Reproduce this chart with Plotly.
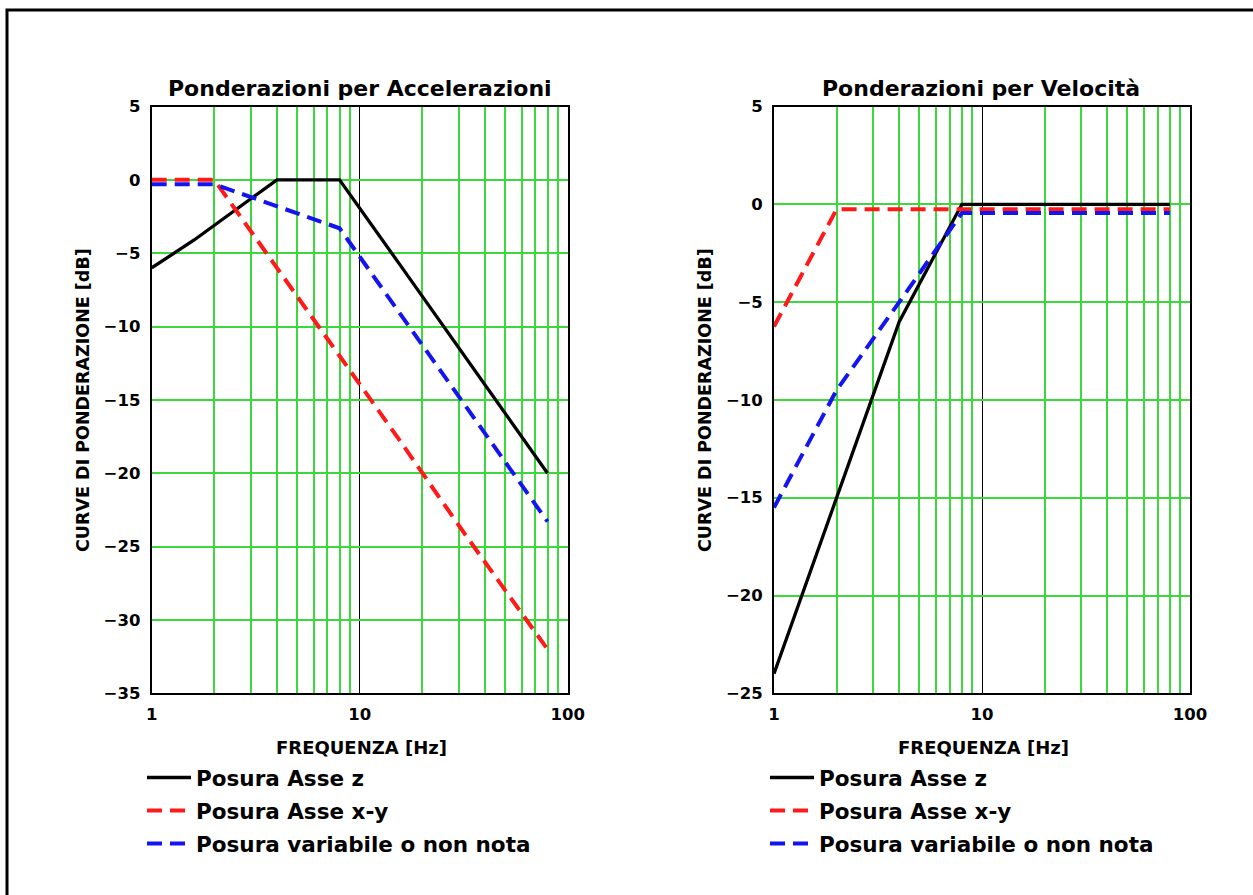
import plotly.graph_objects as go

# ---------------- data ----------------
series_names = ["Posura Asse z", "Posura Asse x-y", "Posura variabile o non nota"]

# Ponderazioni per Accelerazioni
freq_acc_z = [1, 1.6, 4, 8, 16, 80]
acc_z = [-6.0, -4.1, 0.0, 0.0, -6.0, -20.0]

freq_acc_xy = [1, 2, 4, 8, 16, 31.5, 63, 80]
acc_xy = [0.0, 0.0, -6.0, -12.0, -18.0, -24.0, -30.0, -32.0]

freq_acc_var = [1, 2, 8, 80]
acc_var = [-0.3, -0.3, -3.3, -23.3]

# Ponderazioni per Velocità
freq_vel_z = [1, 2, 4, 8, 80]
vel_z = [-24.0, -15.0, -6.0, 0.0, 0.0]

freq_vel_xy = [1, 1.6, 2, 80]
vel_xy = [-6.25, -2.2, -0.25, -0.25]

freq_vel_var = [1, 2, 4, 8, 80]
vel_var = [-15.5, -9.5, -5.0, -0.45, -0.45]

titles = ["Ponderazioni per Accelerazioni", "Ponderazioni per Velocità"]
x_title = "FREQUENZA [Hz]"
y_title = "CURVE DI PONDERAZIONE [dB]"

# ---------------- styling ----------------
W, H = 1253, 895
FONT = "DejaVu Sans"
GREEN = "#3cd83c"
colors = ["#000000", "#ff1a1a", "#1414f0"]
dashes = ["solid", "15px,8px", "15px,8px"]
widths = [3.3, 4, 4]

fig = go.Figure()

acc_sets = [(freq_acc_z, acc_z), (freq_acc_xy, acc_xy), (freq_acc_var, acc_var)]
vel_sets = [(freq_vel_z, vel_z), (freq_vel_xy, vel_xy), (freq_vel_var, vel_var)]

for i, (fx, fy) in enumerate(acc_sets):
    fig.add_trace(go.Scatter(
        x=fx, y=fy, mode="lines", name=series_names[i],
        line=dict(color=colors[i], dash=dashes[i], width=widths[i]),
        xaxis="x", yaxis="y", legend="legend", legendgroup="a%d" % i))
for i, (fx, fy) in enumerate(vel_sets):
    fig.add_trace(go.Scatter(
        x=fx, y=fy, mode="lines", name=series_names[i],
        line=dict(color=colors[i], dash=dashes[i], width=widths[i]),
        xaxis="x2", yaxis="y2", legend="legend2", legendgroup="v%d" % i))

def px_x(p):
    return p / W

def px_y(p):
    return 1 - p / H

tickfont = dict(family=FONT, size=16.5, color="black", weight="bold")

def xaxis_cfg(dom, anchor):
    return dict(
        domain=dom, anchor=anchor, type="log", range=[0, 2], dtick=1,
        automargin=False,
        showgrid=True, gridcolor="black", gridwidth=1,
        minor=dict(dtick="D1", showgrid=True, gridcolor=GREEN, gridwidth=1.5, ticks=""),
        showline=True, linecolor="black", linewidth=2, mirror=True,
        ticks="", ticklabelstandoff=5, tickfont=tickfont, zeroline=False)

def yaxis_cfg(dom, anchor, rng):
    return dict(
        domain=dom, anchor=anchor, range=rng, dtick=5, automargin=False,
        showgrid=True, gridcolor=GREEN, gridwidth=1.5, zeroline=False,
        showline=True, linecolor="black", linewidth=2, mirror=True,
        ticks="", ticklabelstandoff=6, tickfont=tickfont)

legend_font = dict(family=FONT, size=21.5, color="black", weight="bold")
ydom = [px_y(693.3), px_y(106.5)]
fig.update_layout(
    template="none",
    width=W, height=H, autosize=False,
    margin=dict(l=0, r=0, t=0, b=0, pad=0),
    paper_bgcolor="white", plot_bgcolor="white",
    xaxis=xaxis_cfg([px_x(151.7), px_x(567.7)], "y"),
    yaxis=yaxis_cfg(ydom, "x", [-35, 5]),
    xaxis2=xaxis_cfg([px_x(774), px_x(1190)], "y2"),
    yaxis2=yaxis_cfg(ydom, "x2", [-25, 5]),
    legend=dict(x=px_x(142), y=px_y(757), xanchor="left", yanchor="top",
                bgcolor="rgba(0,0,0,0)", borderwidth=0, tracegroupgap=2, itemwidth=44,
                font=legend_font),
    legend2=dict(x=px_x(765), y=px_y(757), xanchor="left", yanchor="top",
                 bgcolor="rgba(0,0,0,0)", borderwidth=0, tracegroupgap=2, itemwidth=44,
                 font=legend_font),
)

ann = []
for cx, t in [(359.7, titles[0]), (981, titles[1])]:
    ann.append(dict(x=px_x(cx), y=px_y(89), xref="paper", yref="paper", text=t,
                    showarrow=False, xanchor="center", yanchor="middle",
                    font=dict(family=FONT, size=22, color="black", weight="bold")))
for cx in [361, 983]:
    ann.append(dict(x=px_x(cx), y=px_y(747), xref="paper", yref="paper", text=x_title,
                    showarrow=False, xanchor="center", yanchor="middle",
                    font=dict(family=FONT, size=18, color="black", weight="bold")))
for cx in [83, 705]:
    ann.append(dict(x=px_x(cx), y=px_y(400), xref="paper", yref="paper", text=y_title,
                    showarrow=False, xanchor="center", yanchor="middle", textangle=-90,
                    font=dict(family=FONT, size=17.5, color="black", weight="bold")))
fig.update_layout(annotations=ann)

# outer frame (only top and left edges visible in the reference)
fig.add_shape(type="rect", xref="paper", yref="paper",
              x0=px_x(7), y0=-0.05, x1=1.05, y1=px_y(10),
              line=dict(color="black", width=3), fillcolor="rgba(0,0,0,0)", layer="below")

fig.write_html("out.html")
